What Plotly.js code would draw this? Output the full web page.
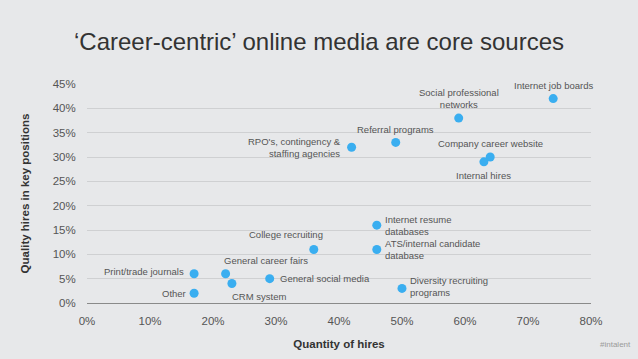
<!DOCTYPE html>
<html>
<head>
<meta charset="utf-8">
<script src="https://cdn.plot.ly/plotly-3.0.1.min.js"></script>
<style>
html,body{margin:0;padding:0;background:#e7e8ea;}
#chart{width:638px;height:359px;}
</style>
</head>
<body>
<div id="chart"></div>
<script>
// Data (percent)
const sources = [
  "Internet job boards",
  "Social professional<br>networks",
  "Referral programs",
  "RPO's, contingency &<br>staffing agencies",
  "Company career website",
  "Internal hires",
  "Internet resume<br>databases",
  "ATS/internal candidate<br>database",
  "College recruiting",
  "Print/trade journals",
  "General career fairs",
  "CRM system",
  "General social media",
  "Other",
  "Diversity recruiting<br>programs"
];
const quantity = [74, 59, 49, 42, 64, 63, 46, 46, 36, 17, 22, 23, 29, 17, 50];
const quality  = [42, 38, 33, 32, 30, 29, 16, 11, 11, 6, 6, 4, 5, 2, 3];
const xTicks = [0, 10, 20, 30, 40, 50, 60, 70, 80];
const yTicks = [0, 5, 10, 15, 20, 25, 30, 35, 40, 45];

// Label placement (style only): [xanchor, yanchor, xshift, yshift, align]
const labelPlace = [
  ["center","bottom",0,6,"center"],
  ["center","bottom",0,6,"center"],
  ["center","bottom",0,5,"center"],
  ["right","middle",-9,0,"right"],
  ["center","bottom",0,6,"center"],
  ["center","top",0,-6,"center"],
  ["left","middle",6,0,"left"],
  ["left","middle",6,0,"left"],
  ["center","bottom",-28,7,"center"],
  ["right","middle",-8,2,"right"],
  ["left","bottom",-4,6,"left"],
  ["left","top",-2,-5,"left"],
  ["left","middle",8,0,"left"],
  ["right","middle",-6,0,"right"],
  ["left","middle",6,2,"left"]
];

const annotations = sources.map((s, i) => ({
  x: quantity[i], y: quality[i], xref: 'x', yref: 'y',
  text: s, showarrow: false,
  xanchor: labelPlace[i][0], yanchor: labelPlace[i][1],
  xshift: labelPlace[i][2], yshift: labelPlace[i][3], align: labelPlace[i][4],
  font: {family: 'Liberation Sans, Arial, sans-serif', size: 9.5, color: '#555'}
}));

annotations.push({
  xref: 'paper', yref: 'paper', x: 1.083, y: -0.19, xanchor: 'right', yanchor: 'middle',
  text: '#intalent', showarrow: false,
  font: {family: 'Liberation Sans, Arial, sans-serif', size: 8, color: '#9a9a9a'}
});

const trace = {
  type: 'scatter', mode: 'markers',
  x: quantity, y: quality, text: sources, hoverinfo: 'text',
  marker: {size: 9, color: '#3aaef0'}
};

const layout = {
  width: 638, height: 359,
  margin: {l: 87, r: 47, t: 84, b: 56},
  paper_bgcolor: '#e7e8ea', plot_bgcolor: 'rgba(0,0,0,0)',
  showlegend: false,
  font: {family: 'Liberation Sans, Arial, sans-serif', color: '#555'},
  title: {
    text: '‘Career-centric’ online media are core sources',
    font: {family: 'Liberation Sans, Arial, sans-serif', size: 24, color: '#333'},
    x: 0.5, xanchor: 'center', y: 0.885, yanchor: 'middle', xref: 'container'
  },
  xaxis: {
    range: [0, 80], tickvals: xTicks, ticktext: xTicks.map(v => v + '%'),
    showgrid: false, zeroline: false, showline: false,
    ticks: 'outside', ticklen: 7, tickcolor: 'rgba(0,0,0,0)',
    tickfont: {size: 11.5, color: '#555'},
    title: {text: '<b>Quantity of hires</b>', font: {size: 11.5, color: '#333'}, standoff: 14},
    fixedrange: true
  },
  yaxis: {
    range: [0, 45], tickvals: yTicks, ticktext: yTicks.map(v => v + '%'),
    showgrid: true, gridcolor: '#cfd0d2', gridwidth: 1,
    zeroline: true, zerolinecolor: '#8a8a8a', zerolinewidth: 1,
    ticks: 'outside', ticklen: 8, tickcolor: 'rgba(0,0,0,0)',
    tickfont: {size: 11.5, color: '#555'},
    title: {text: '<b>Quality hires in key positions</b>', font: {size: 11.5, color: '#333'}, standoff: 20},
    fixedrange: true
  },
  annotations: annotations
};

Plotly.newPlot('chart', [trace], layout, {displayModeBar: false, staticPlot: true});
</script>
</body>
</html>
